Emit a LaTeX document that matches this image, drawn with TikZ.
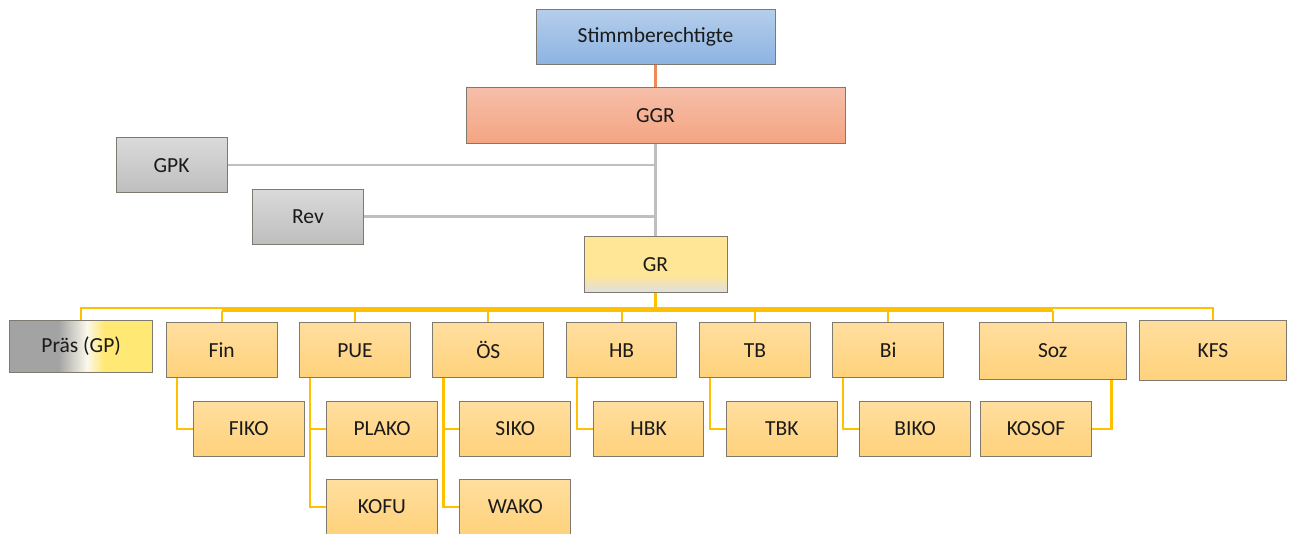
\documentclass[tikz,border=0pt]{standalone}
\usepackage{fontspec}
\setmainfont{Carlito}
\usetikzlibrary{backgrounds}
\definecolor{bltop}{HTML}{B5CEEB}
\definecolor{blbot}{HTML}{8DB3E2}
\definecolor{ggtop}{HTML}{F6BEA8}
\definecolor{ggbot}{HTML}{F4A583}
\definecolor{ortop}{HTML}{FFDE9E}
\definecolor{orbot}{HTML}{FFD27C}
\definecolor{grytop}{HTML}{DADADA}
\definecolor{grybot}{HTML}{BEBEBE}
\definecolor{grtop}{HTML}{FFE596}
\definecolor{grbot}{HTML}{E3E0D8}
\definecolor{prasgray}{HTML}{A3A3A3}
\definecolor{praswhite}{HTML}{FBF8EC}
\definecolor{prasyel}{HTML}{FFE874}
\definecolor{boxline}{HTML}{7F7A70}
\definecolor{ylw}{HTML}{FFC000}
\definecolor{gln}{HTML}{BFBFBF}
\definecolor{oln}{HTML}{EE8A55}
\definecolor{txt}{HTML}{1A1A1A}
\pgfdeclarehorizontalshading{prassh}{100bp}{color(0bp)=(prasgray); color(42bp)=(prasgray); color(52bp)=(praswhite); color(58bp)=(prasyel); color(100bp)=(prasyel)}
\pgfdeclareverticalshading{grsh}{100bp}{color(0bp)=(grbot); color(27bp)=(grbot); color(40bp)=(grtop); color(100bp)=(grtop)}
\begin{document}
\begin{tikzpicture}[x=1pt,y=-1pt,
  box/.style={draw=boxline, line width=1pt, inner sep=0pt, text=txt,
    font=\fontsize{21.5}{26}\selectfont, minimum width=110.7pt, minimum height=55.3pt},
  bluebox/.style={box, top color=bltop, bottom color=blbot},
  ggrbox/.style={box, top color=ggtop, bottom color=ggbot},
  orbox/.style={box, top color=ortop, bottom color=orbot},
  graybox/.style={box, top color=grytop, bottom color=grybot},
  grbox/.style={box, shading=grsh},
  prasbox/.style={box, shading=prassh},
  ythick/.style={draw=ylw, line width=3.8pt},
  ythin/.style={draw=ylw, line width=2.2pt},
  gline/.style={draw=gln, line width=2.4pt},
  oline/.style={draw=oln, line width=2.2pt}]
\useasboundingbox (0,0) rectangle (1292,534);

% top
\node[bluebox, minimum width=239pt, minimum height=55pt] (st) at (655.5,36.7) {Stimmberechtigte};
\node[ggrbox, minimum width=379pt, minimum height=55.3pt] (ggr) at (655.5,115.4) {GGR};
\node[grbox, minimum width=143pt] (gr) at (655.5,264.4) {GR};
\node[graybox, minimum width=111pt, minimum height=55.5pt] (gpk) at (171.5,165.2) {GPK};
\node[graybox, minimum width=111pt] (rev) at (307.9,216.7) {Rev};

% level 1
\node[prasbox, minimum width=143pt, minimum height=52.7pt] (pras) at (81.2,346.4) {Präs (GP)};
\node[orbox] (fin) at (221.7,350.3) {Fin};
\node[orbox] (pue) at (355.0,350.3) {PUE};
\node[orbox] (os)  at (488.3,350.3) {ÖS};
\node[orbox] (hb)  at (621.6,350.3) {HB};
\node[orbox] (tb)  at (754.9,350.3) {TB};
\node[orbox] (bi)  at (888.2,350.3) {Bi};
\node[orbox, minimum width=146.7pt, minimum height=57pt] (soz) at (1052.7,350.8) {Soz};
\node[orbox, minimum width=146.6pt, minimum height=60.3pt] (kfs) at (1213,350.2) {KFS};

% level 2
\node[orbox] (fiko)  at (248.7,428.7) {FIKO};
\node[orbox] (plako) at (382.0,428.7) {PLAKO};
\node[orbox] (kofu)  at (382.0,507.0) {KOFU};
\node[orbox] (siko)  at (515.3,428.7) {SIKO};
\node[orbox] (wako)  at (515.3,507.0) {WAKO};
\node[orbox] (hbk)   at (648.6,428.7) {HBK};
\node[orbox] (tbk)   at (781.9,428.7) {TBK};
\node[orbox] (biko)  at (915.2,428.7) {BIKO};
\node[orbox] (kosof) at (1036.0,428.7) {KOSOF};

% connectors (drawn behind the boxes)
\begin{scope}[on background layer]
\draw[oline] (st.south) -- (ggr.north);
\draw[gline] (ggr.south) -- (gr.north);
\draw[gline] (gpk.east) -- (gpk.east -| ggr.south);
\draw[gline] (rev.east) -- (rev.east -| ggr.south);

\coordinate (busM) at (0,310.6);
\coordinate (busT) at (0,308.4);
\draw[ythin] (pras.north) -- (pras.north |- busT) -- (kfs.north |- busT) -- (kfs.north);
\draw[ythick] (gr.south) -- (gr.south |- busM);
\draw[ythick] (fin.north |- busM) -- (soz.north |- busM);
\foreach \n in {fin,pue,os,hb,tb,bi,soz}
  \draw[ythin] (\n.north |- busM) -- (\n.north);

\draw[ythin] ([xshift=11pt]fin.south west) |- (fiko.west);
\draw[ythin] ([xshift=11pt]pue.south west) |- (plako.west);
\draw[ythin] ([xshift=11pt]pue.south west) |- (kofu.west);
\draw[ythin] ([xshift=11pt]os.south west) |- (siko.west);
\draw[ythin] ([xshift=11pt]os.south west) |- (wako.west);
\draw[ythin] ([xshift=11pt]hb.south west) |- (hbk.west);
\draw[ythin] ([xshift=11pt]tb.south west) |- (tbk.west);
\draw[ythin] ([xshift=11pt]bi.south west) |- (biko.west);
\draw[ythin] ([xshift=-15pt]soz.south east) |- (kosof.east);
\end{scope}
\end{tikzpicture}
\end{document}
